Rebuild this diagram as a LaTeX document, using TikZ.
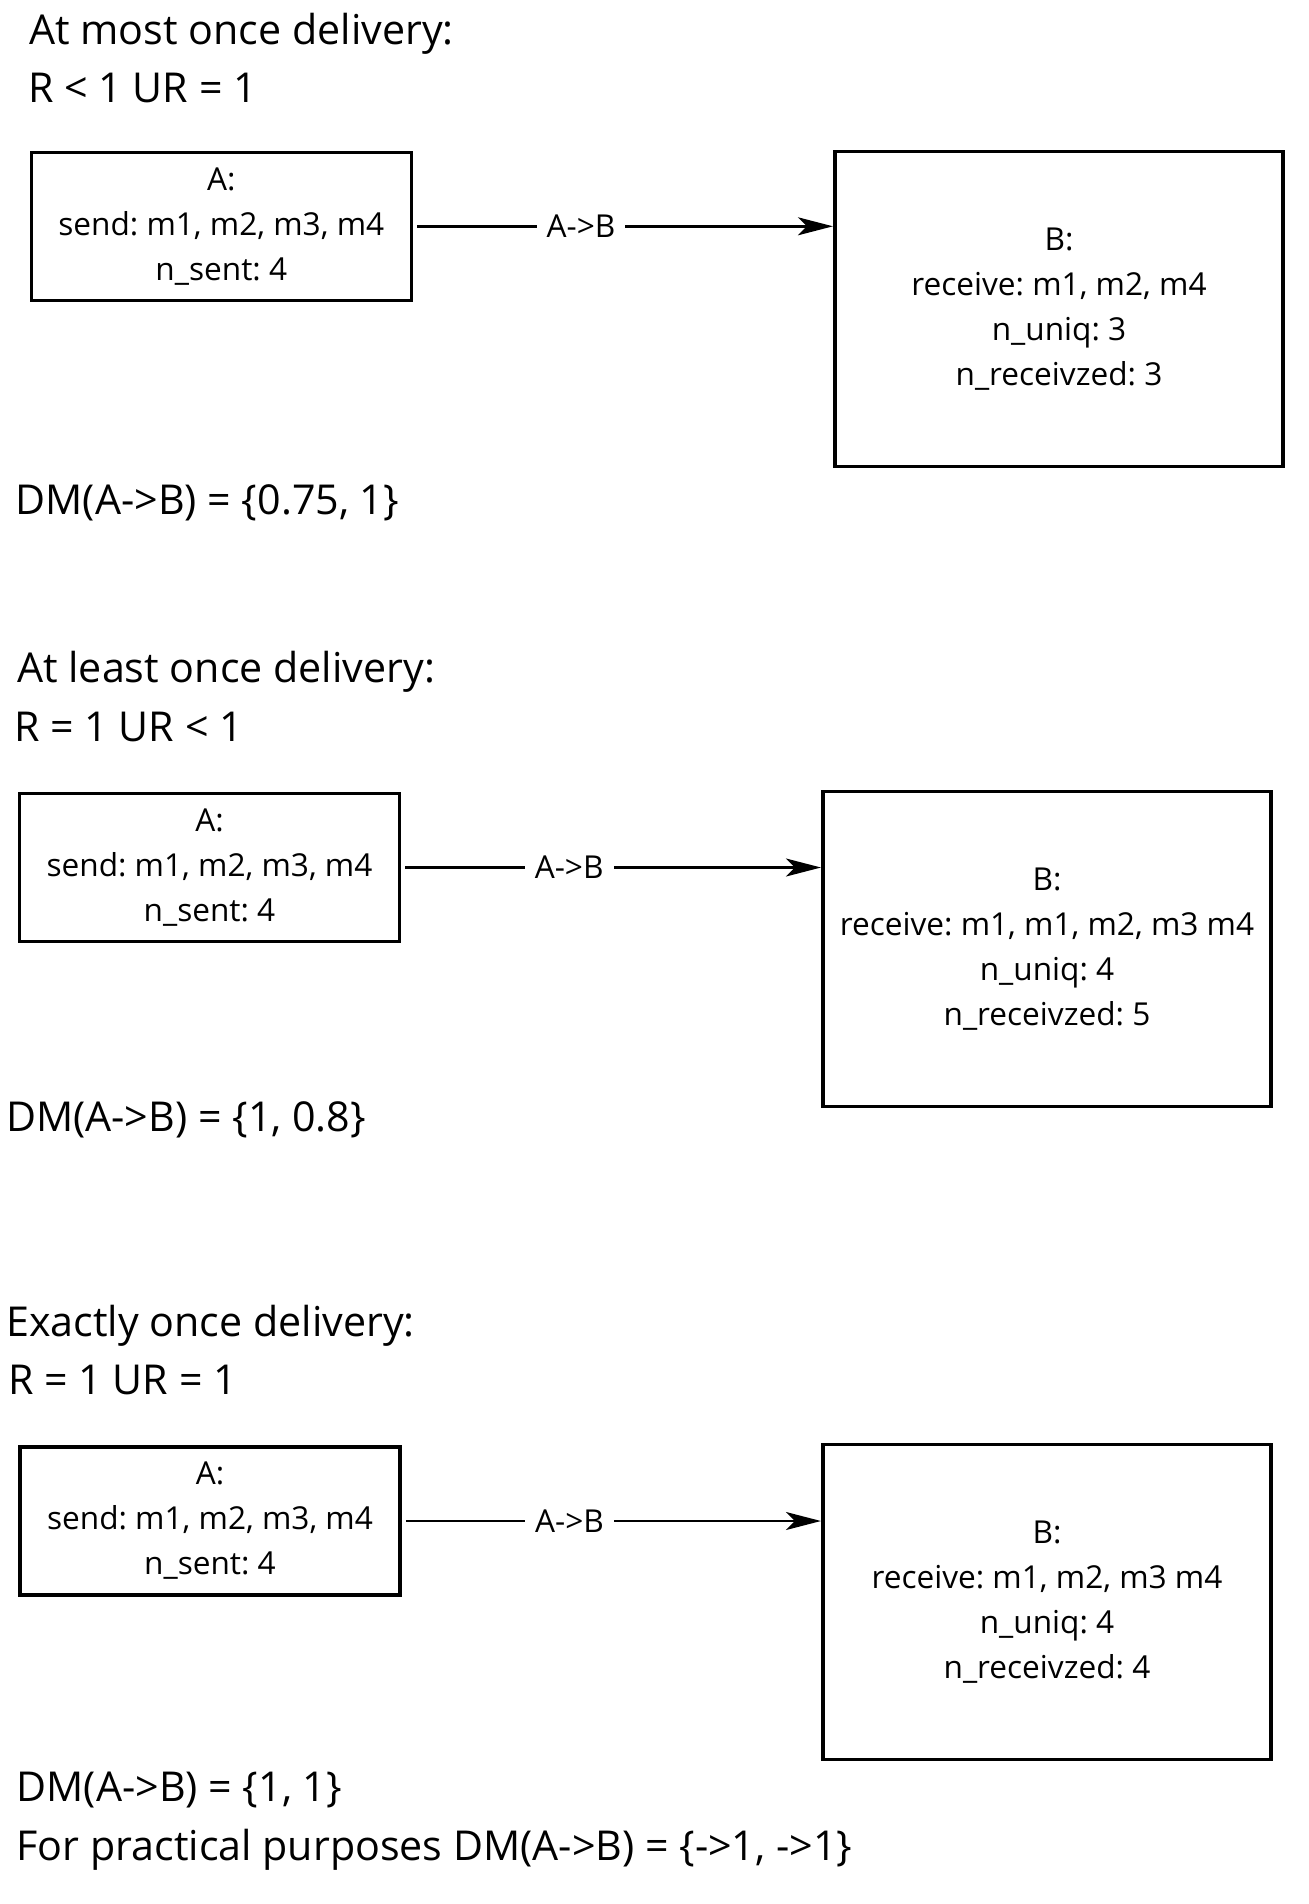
\documentclass[tikz,border=0pt]{standalone}
\usepackage{fontspec}
\setmainfont{Open Sans}
\usetikzlibrary{arrows.meta}
\frenchspacing
\begin{document}
\begin{tikzpicture}[x=1pt,y=-1pt,
  heading/.style={anchor=base west, inner sep=0pt, font=\fontsize{41.2}{48}\selectfont},
  abox/.style={draw=black, line width=3.6pt, minimum width=380pt, minimum height=148pt, inner sep=0pt, align=center, font=\fontsize{31.6}{45}\selectfont},
  bbox/.style={abox, minimum width=448.5pt, minimum height=314.8pt},
  link/.style={line width=2.4pt, -{Stealth[length=35pt,width=18pt,inset=9pt]}, shorten <=4pt},
  lbl/.style={fill=white, inner xsep=10pt, inner ysep=2pt, font=\fontsize{31.6}{36}\selectfont, pos=0.4}
]
\useasboundingbox (0,0) rectangle (1309,1904);

% ---------- Section 1 ----------
\node[heading] (t1) at (29,44.6) {At most once delivery:};
\node[heading] (c1) at (28,102.5) {R < 1 UR = 1};
\node[abox] (a1) at (221.3,226.3) {A:\\send: m1, m2, m3, m4\\n\_sent: 4};
\node[bbox] (b1) at (1059,309) {B:\\receive: m1, m2, m4\\n\_uniq: 3\\n\_receivzed: 3};
\draw[link] (a1.east) -- node[lbl] {A->B} (a1.east -| b1.west);
\node[heading] (dm1) at (15.5,514) {DM(A->B) = \{0.75, 1\}};

% ---------- Section 2 ----------
\node[heading] (t2) at (17,682) {At least once delivery:};
\node[heading] (c2) at (14,741) {R = 1 UR < 1};
\node[abox] (a2) at (209.5,867.5) {A:\\send: m1, m2, m3, m4\\n\_sent: 4};
\node[bbox] (b2) at (1047,949) {B:\\receive: m1, m1, m2, m3 m4\\n\_uniq: 4\\n\_receivzed: 5};
\draw[link] (a2.east) -- node[lbl] {A->B} (a2.east -| b2.west);
\node[heading] (dm2) at (6,1131) {DM(A->B) = \{1, 0.8\}};

% ---------- Section 3 ----------
\node[heading] (t3) at (6,1336) {Exactly once delivery:};
\node[heading] (c3) at (8,1394) {R = 1 UR = 1};
\node[abox] (a3) at (210,1521) {A:\\send: m1, m2, m3, m4\\n\_sent: 4};
\node[bbox] (b3) at (1047,1602) {B:\\receive: m1, m2, m3 m4\\n\_uniq: 4\\n\_receivzed: 4};
\draw[link] (a3.east) -- node[lbl] {A->B} (a3.east -| b3.west);
\node[heading] (dm3) at (16.5,1801) {DM(A->B) = \{1, 1\}};
\node[heading] (pp) at (16.5,1860) {For practical purposes DM(A->B) = \{->1, ->1\}};
\end{tikzpicture}
\end{document}
